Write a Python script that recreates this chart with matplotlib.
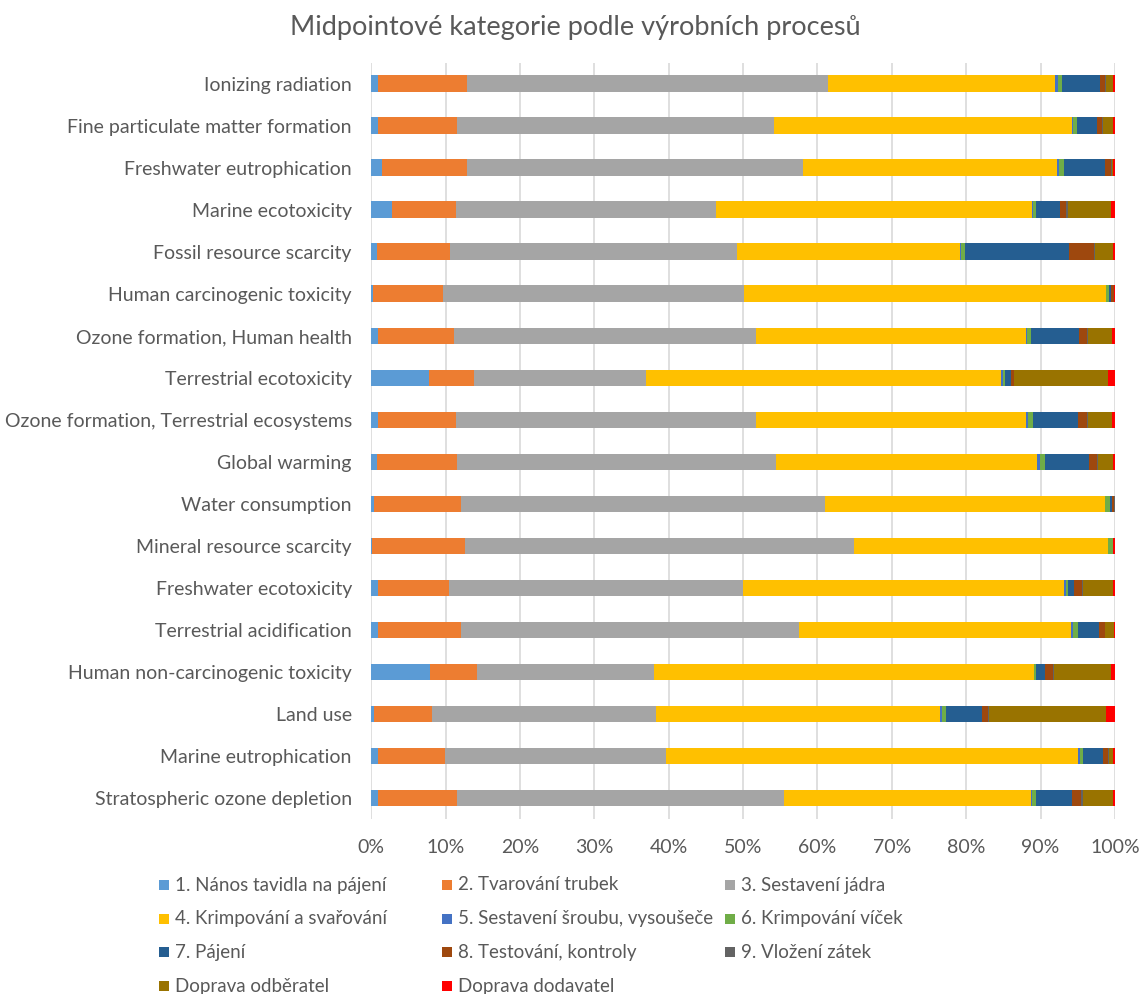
import numpy as np
import matplotlib
matplotlib.use("Agg")
import matplotlib.pyplot as plt
from matplotlib.patches import Rectangle
from matplotlib.ticker import PercentFormatter

plt.rcParams['font.family'] = ['Lato', 'DejaVu Sans']

categories = [
    "Ionizing radiation",
    "Fine particulate matter formation",
    "Freshwater eutrophication",
    "Marine ecotoxicity",
    "Fossil resource scarcity",
    "Human carcinogenic toxicity",
    "Ozone formation, Human health",
    "Terrestrial ecotoxicity",
    "Ozone formation, Terrestrial ecosystems",
    "Global warming",
    "Water consumption",
    "Mineral resource scarcity",
    "Freshwater ecotoxicity",
    "Terrestrial acidification",
    "Human non-carcinogenic toxicity",
    "Land use",
    "Marine eutrophication",
    "Stratospheric ozone depletion",
]

series_names = [
    "1. Nános tavidla na pájení",
    "2. Tvarování trubek",
    "3. Sestavení jádra",
    "4. Krimpování a svařování",
    "5. Sestavení šroubu, vysoušeče",
    "6. Krimpování víček",
    "7. Pájení",
    "8. Testování, kontroly",
    "9. Vložení zátek",
    "Doprava odběratel",
    "Doprava dodavatel",
]

# shares per category (top to bottom)
nanos = [0.94, 0.94, 1.43, 2.73, 0.76, 0.22, 0.94, 7.75, 0.94, 0.76, 0.4, 0.05, 0.94, 0.94, 7.93, 0.4, 0.94, 0.94]
tvarovani = [12.0, 10.58, 11.52, 8.61, 9.82, 9.46, 10.22, 6.06, 10.4, 10.76, 11.66, 12.55, 9.5, 11.12, 6.32, 7.71, 9.01, 10.58]
jadro = [48.6, 42.74, 45.21, 34.96, 38.6, 40.41, 40.59, 23.12, 40.41, 42.92, 49.01, 52.4, 39.52, 45.52, 23.8, 30.12, 29.67, 43.99]
krimp_svar = [30.6, 40.11, 34.24, 42.52, 29.9, 48.77, 36.17, 47.72, 36.21, 35.14, 37.61, 34.2, 43.16, 36.62, 50.95, 38.22, 55.52, 33.13]
sroub = [0.4, 0.18, 0.27, 0.18, 0.23, 0.05, 0.18, 0.22, 0.34, 0.32, 0.05, 0.05, 0.22, 0.3, 0.13, 0.22, 0.31, 0.22]
vicka = [0.6, 0.59, 0.63, 0.4, 0.54, 0.4, 0.54, 0.27, 0.56, 0.76, 0.67, 0.6, 0.32, 0.59, 0.27, 0.53, 0.35, 0.54]
pajeni = [5.1, 2.64, 5.56, 3.18, 13.98, 0.25, 6.5, 0.81, 6.1, 5.87, 0.22, 0.05, 0.8, 2.87, 1.2, 4.8, 2.7, 4.8]
testovani = [0.7, 0.72, 0.76, 0.85, 3.36, 0.35, 0.98, 0.35, 1.16, 1.07, 0.3, 0.05, 1.12, 0.72, 1.04, 0.84, 0.7, 1.16]
zatky = [0.1, 0.1, 0.15, 0.23, 0.1, 0.05, 0.13, 0.1, 0.13, 0.14, 0.1, 0.0, 0.13, 0.1, 0.13, 0.13, 0.1, 0.27]
doprava_odb = [0.9, 1.4, 0.1, 5.87, 2.4, 0.0, 3.32, 12.6, 3.32, 2.01, 0.0, 0.0, 3.95, 1.15, 7.63, 15.73, 0.6, 4.03]
doprava_dod = [0.3, 0.2, 0.3, 0.47, 0.25, 0.1, 0.36, 0.9, 0.36, 0.25, 0.05, 0.2, 0.3, 0.15, 0.54, 1.2, 0.2, 0.3]

colors = ["#5B9BD5", "#ED7D31", "#A5A5A5", "#FFC000", "#4472C4", "#70AD47",
          "#255E91", "#9E480E", "#636363", "#997300", "#FF0000"]

data = np.array([nanos, tvarovani, jadro, krimp_svar, sroub, vicka,
                 pajeni, testovani, zatky, doprava_odb, doprava_dod])
shares = data / data.sum(axis=0) * 100

text_col = "#595959"

fig = plt.figure(figsize=(11.4, 9.94), dpi=100)
ax = fig.add_axes([0.3257, 0.176, 0.978 - 0.3257, 0.9368 - 0.176])

y = np.arange(len(categories))
left = np.zeros(len(categories))
for vals, col, name in zip(shares, colors, series_names):
    ax.barh(y, vals, left=left, height=0.4, color=col, linewidth=0, label=name, zorder=3)
    left += vals

ax.set_xlim(0, 100)
ax.set_ylim(len(categories) - 0.5, -0.5)
ax.set_xticks(np.arange(0, 101, 10))
ax.xaxis.set_major_formatter(PercentFormatter(decimals=0))
ax.set_yticks(y)
ax.set_yticklabels(categories)
ax.grid(axis='x', color="#D9D9D9", linewidth=1.2, zorder=0)
for s in ax.spines.values():
    s.set_visible(False)
ax.tick_params(axis='both', length=0, labelsize=14, colors=text_col)
ax.tick_params(axis='x', pad=14)
ax.tick_params(axis='y', pad=14)

fig.text(0.505, 0.972, "Midpointové kategorie podle výrobních procesů",
         ha='center', va='center', fontsize=19.5, color=text_col)

# legend, three equal columns like Excel
W, H = 1140.0, 994.0
for i, (name, col) in enumerate(zip(series_names, colors)):
    row, c = divmod(i, 3)
    x0 = 159 + c * 283
    yc = 885 + row * 33.7
    fig.add_artist(Rectangle((x0 / W, 1 - (yc + 5) / H), 10 / W, 10 / H,
                             transform=fig.transFigure, color=col, linewidth=0))
    fig.text((x0 + 16) / W, 1 - yc / H, name, ha='left', va='center',
             fontsize=13.5, color=text_col)

fig.savefig("out.png", dpi=100)
